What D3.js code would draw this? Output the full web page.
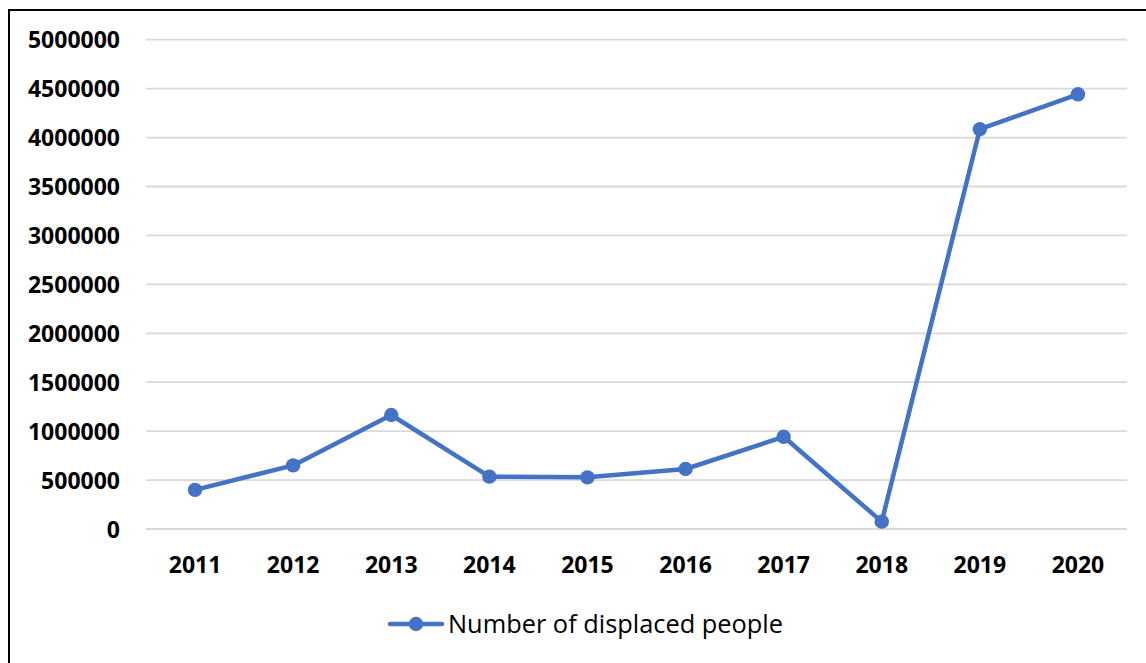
<!DOCTYPE html>
<html>
<head>
<meta charset="utf-8">
<script src="https://cdn.jsdelivr.net/npm/d3@7"></script>
<style>
  html, body { margin: 0; padding: 0; background: #fff; }
  svg { display: block; }
</style>
</head>
<body>
<svg id="chart" width="1146" height="663"></svg>
<script>
// Displaced people per year
const years = ["2011", "2012", "2013", "2014", "2015", "2016", "2017", "2018", "2019", "2020"];
const displaced = [400000, 650000, 1165000, 535000, 528000, 613000, 942000, 75000, 4085000, 4442000];
const yTicks = [0, 500000, 1000000, 1500000, 2000000, 2500000, 3000000, 3500000, 4000000, 4500000, 5000000];
const seriesName = "Number of displaced people";

const W = 1146, H = 663;
const margin = { left: 146, right: 1127, top: 39.7, bottom: 529 };
const color = "#4472C4";
const fontFamily = "'Open Sans', 'Noto Sans', sans-serif";

const svg = d3.select("#chart");

// outer frame (extends past the right and bottom edges)
svg.append("rect")
  .attr("x", 9).attr("y", 10)
  .attr("width", W + 20).attr("height", H + 20)
  .attr("fill", "none").attr("stroke", "#000").attr("stroke-width", 2);

const x = d3.scaleBand().domain(years).range([margin.left, margin.right]);
const y = d3.scaleLinear().domain([0, 5000000]).range([margin.bottom, margin.top]);

// horizontal gridlines
svg.append("g").selectAll("line")
  .data(yTicks).join("line")
  .attr("x1", margin.left).attr("x2", margin.right)
  .attr("y1", d => y(d)).attr("y2", d => y(d))
  .attr("stroke", "#d9d9d9").attr("stroke-width", 1.8);

// y axis labels
const yAxis = d3.axisLeft(y).tickValues(yTicks).tickFormat(d3.format("d")).tickSize(0).tickPadding(0);
const yg = svg.append("g").attr("transform", "translate(120,0)").call(yAxis);
yg.select(".domain").remove();
yg.selectAll("text")
  .attr("font-family", fontFamily).attr("font-weight", "bold")
  .attr("font-size", 23).attr("fill", "#000").attr("dy", "0.35em");

// x axis labels
const xAxis = d3.axisBottom(x).tickSize(0).tickPadding(0);
const xg = svg.append("g").attr("transform", "translate(0,573)").call(xAxis);
xg.select(".domain").remove();
xg.selectAll("text")
  .attr("font-family", fontFamily).attr("font-weight", "bold")
  .attr("font-size", 23).attr("fill", "#000").attr("dy", 0);

// series line
const pts = years.map((yr, i) => ({ yr, v: displaced[i] }));
const line = d3.line().x(d => x(d.yr) + x.bandwidth() / 2).y(d => y(d.v));
svg.append("path")
  .datum(pts)
  .attr("d", line)
  .attr("fill", "none").attr("stroke", color)
  .attr("stroke-width", 4.5).attr("stroke-linejoin", "round").attr("stroke-linecap", "round");

svg.append("g").selectAll("circle")
  .data(pts).join("circle")
  .attr("cx", d => x(d.yr) + x.bandwidth() / 2)
  .attr("cy", d => y(d.v))
  .attr("r", 7.2)
  .attr("fill", color);

// legend
const lg = svg.append("g").attr("transform", "translate(0,624)");
lg.append("line")
  .attr("x1", 390).attr("x2", 442).attr("y1", 0).attr("y2", 0)
  .attr("stroke", color).attr("stroke-width", 4.5).attr("stroke-linecap", "round");
lg.append("circle").attr("cx", 416).attr("cy", 0).attr("r", 7.2).attr("fill", color);
lg.append("text")
  .attr("x", 448).attr("y", 8.8)
  .attr("font-family", fontFamily).attr("font-size", 26)
  .attr("textLength", 335).attr("lengthAdjust", "spacingAndGlyphs")
  .attr("fill", "#000")
  .text(seriesName);
</script>
</body>
</html>
